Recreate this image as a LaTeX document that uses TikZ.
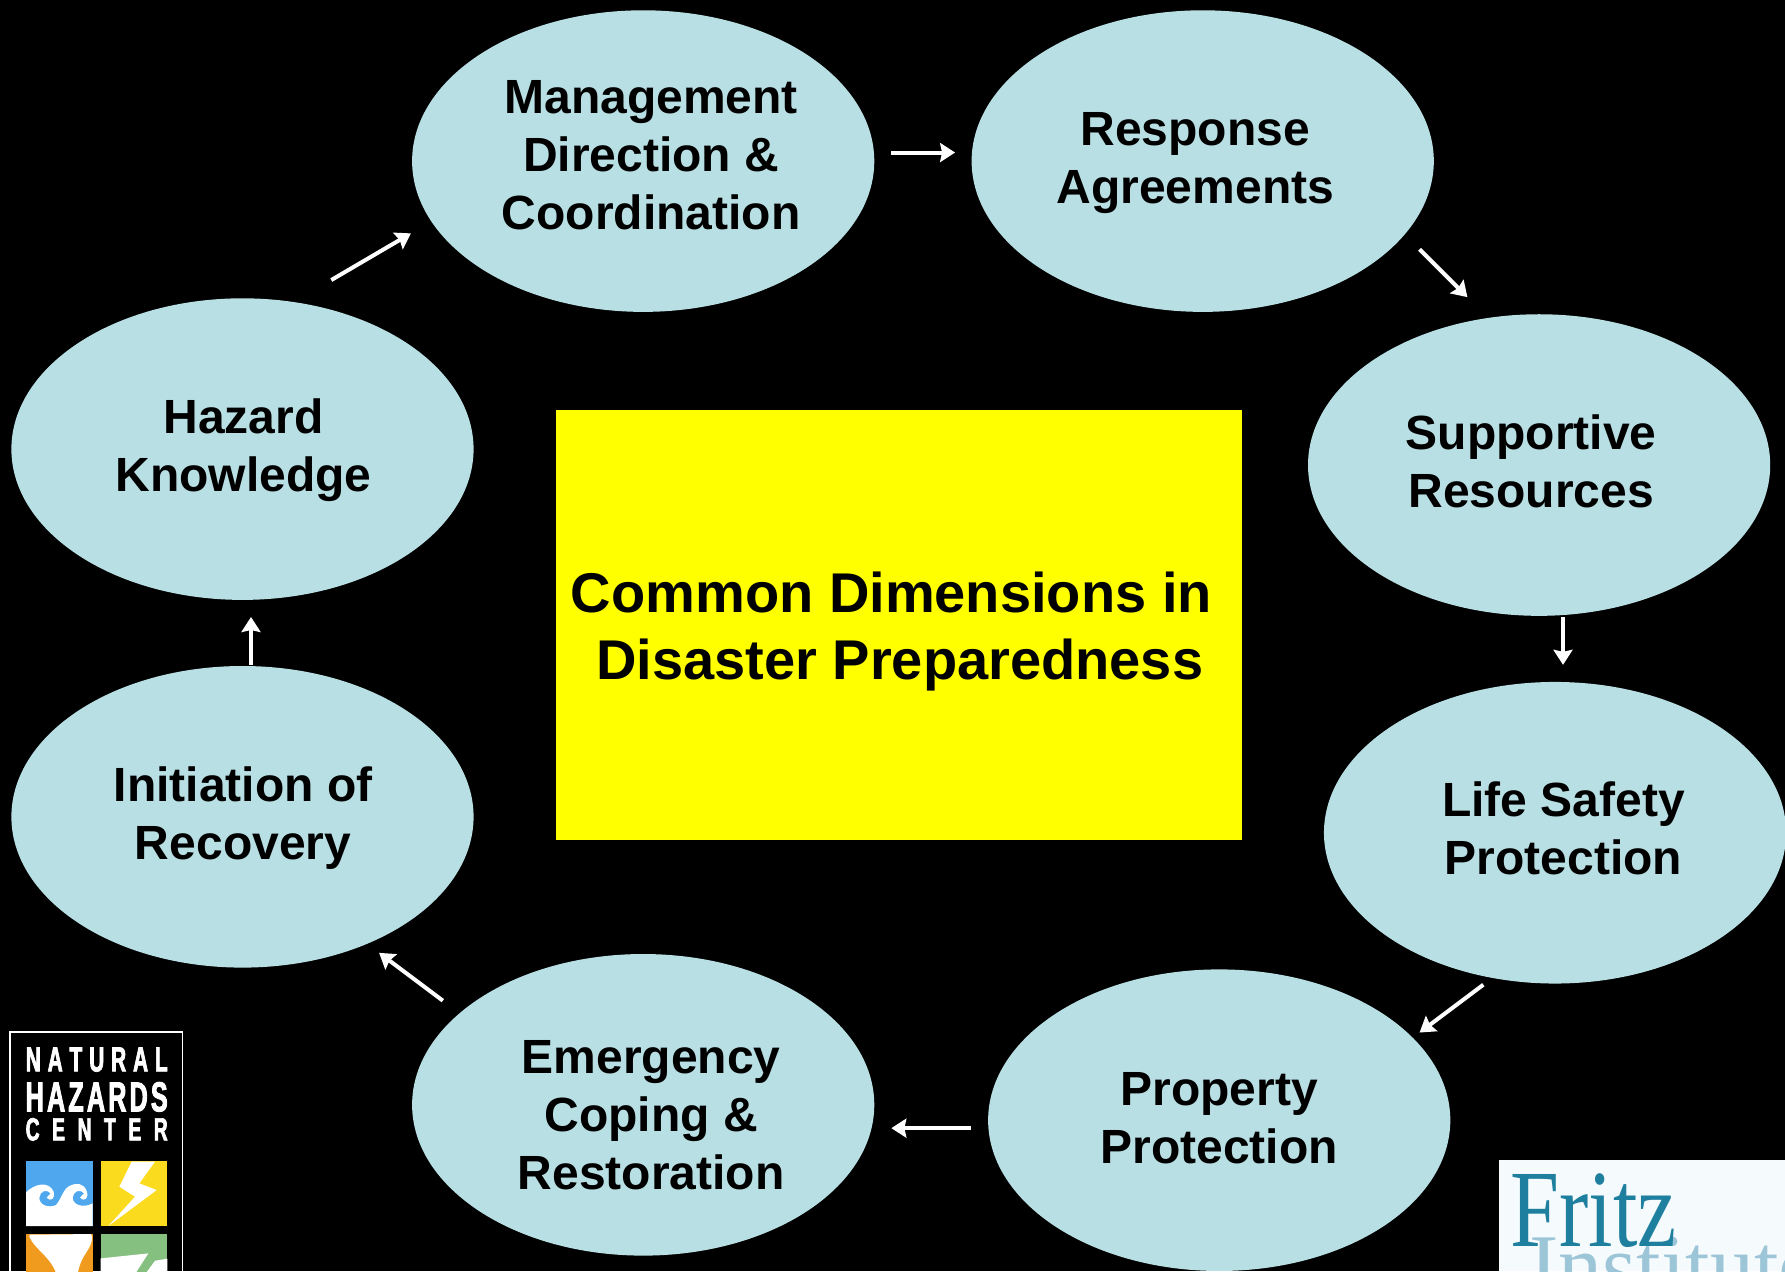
\documentclass[tikz,border=0pt]{standalone}
\usepackage{fontspec}
\usetikzlibrary{shapes.geometric,arrows.meta}
\setmainfont{Liberation Sans}
\newfontfamily\condfont[FakeStretch=0.6,FakeBold=2]{Liberation Sans Bold}
\newfontfamily\fritzfont{Liberation Serif}
\definecolor{bub}{HTML}{B8DFE3}
\definecolor{boxyellow}{RGB}{255,255,0}
\definecolor{lblue}{HTML}{4FA8EE}
\definecolor{lyellow}{HTML}{FBDB1E}
\definecolor{lorange}{HTML}{F09A1E}
\definecolor{lgreen}{HTML}{85C080}
\definecolor{fteal}{HTML}{1F7F9F}
\definecolor{fpale}{HTML}{9CC6D8}
\definecolor{fback}{HTML}{F5FAFC}
\tikzset{
  bubble/.style={ellipse,fill=bub,draw=none,minimum width=231.1pt,minimum height=150.8pt,inner sep=0pt},
  bubtext/.style={align=center,font=\fontsize{24}{29}\selectfont\bfseries,text=black,inner sep=0pt},
  titletext/.style={align=center,font=\fontsize{28}{33.6}\selectfont\bfseries,text=black,inner sep=0pt},
  flow/.style={draw=white,line width=2pt,-{Stealth[length=7.5pt,width=9.5pt,inset=1pt]}},
  logoline/.style={text=white,inner sep=0pt,anchor=base west},
}
\begin{document}
\begin{tikzpicture}[x=0.5692pt,y=-0.5692pt]
\useasboundingbox (0,0) rectangle (1568,1116.5);
\clip (0,0) rectangle (1568,1116.5);
\fill[black] (0,0) rectangle (1568,1116.5);

% bubbles
\node[bubble] (e1) at (565,141.5) {};
\node[bubble] (e2) at (1056.5,141.5) {};
\node[bubble] (e3) at (1352,408.5) {};
\node[bubble] (e4) at (1366,731.5) {};
\node[bubble] (e5) at (1071,984) {};
\node[bubble] (e6) at (565,970.5) {};
\node[bubble] (e7) at (213,717.5) {};
\node[bubble] (e8) at (213,394.5) {};

\node[bubtext] (t1) at (572,136) {Management\\Direction \&\\Coordination};
\node[bubtext] (t2) at (1050,143) {Response\\Agreements};
\node[bubtext] (t3) at (1345,405) {Supportive\\Resources};
\node[bubtext] (t4) at (1373.5,728) {Life Safety\\Protection};
\node[bubtext] (t5) at (1071,982) {Property\\Protection};
\node[bubtext] (t6) at (572,979.5) {Emergency\\Coping \&\\Restoration};
\node[bubtext] (t7) at (213.5,718.5) {Initiation of\\Recovery};
\node[bubtext] (t8) at (214,395.5) {Hazard\\Knowledge};

% centre box
\node[fill=boxyellow,draw=none,minimum width=343.2pt,minimum height=215.2pt,inner sep=0pt] (box) at (789.5,549) {};
\node[titletext] (title) at (783,554.5) {Common Dimensions in\\\hspace*{8.5pt}Disaster Preparedness};

% arrows
\coordinate (a1s) at (291,246);  \coordinate (a1e) at (361,205);
\coordinate (a2s) at (783,134);  \coordinate (a2e) at (839,134);
\coordinate (a3s) at (1247,219); \coordinate (a3e) at (1289,261);
\coordinate (a4s) at (1373,542); \coordinate (a4e) at (1373,584);
\coordinate (a5s) at (1303,865); \coordinate (a5e) at (1247,907);
\coordinate (a6s) at (853,991);  \coordinate (a6e) at (783,991);
\coordinate (a7s) at (389,879);  \coordinate (a7e) at (333,837);
\coordinate (a8s) at (220.5,584);  \coordinate (a8e) at (220.5,542);
\foreach \i in {1,...,8} \draw[flow] (a\i s) -- (a\i e);

% Natural Hazards Center logo (coordinates of a 3x crop whose origin is at pixel (0,1010))
\begin{scope}[x=0.16667pt,y=-0.16667pt,shift={(0,3030)}]
  \draw[white,line width=0.7pt] (30,800) -- (30,66) -- (548,66) -- (548,800);
  \node[logoline] (nat) at (76,184) {\condfont\fontsize{17.4}{17.4}\selectfont\makebox[71pt][s]{N\hfill A\hfill T\hfill U\hfill R\hfill A\hfill L}};
  \node[logoline] (haz) at (76,304) {\condfont\fontsize{21}{21}\selectfont\makebox[71pt][s]{H\hfill A\hfill Z\hfill A\hfill R\hfill D\hfill S}};
  \node[logoline] (cen) at (76,391) {\condfont\fontsize{16}{16}\selectfont\makebox[71pt][s]{C\hfill E\hfill N\hfill T\hfill E\hfill R}};
  % lightning
  \fill[lyellow] (302,452) rectangle (502,648);
  \fill[white] (395,455) -- (465,455) -- (418,520) -- (470,540) -- (325,648) -- (405,560) -- (358,530) -- cycle;
  % funnel
  \fill[lorange] (78,672) rectangle (278,800);
  \fill[white] (88,680) .. controls (105,720) and (155,740) .. (172,800) -- (232,800)
     .. controls (240,730) and (278,720) .. (276,680) -- (273,672) -- (90,674) -- cycle;
  % green
  \fill[lgreen] (302,672) rectangle (502,800);
  \fill[white] (302,745) -- (445,730) -- (400,800) -- (302,800) -- cycle;
  \fill[white] (465,752) -- (502,746) -- (502,800) -- (430,800) -- cycle;
\end{scope}
% wave (coordinates of a 3x crop whose origin is at pixel (20,1155))
\begin{scope}[x=0.16667pt,y=-0.16667pt,shift={(60,3465)}]
  \fill[lblue] (18,18) rectangle (218,213);
  \fill[white] (18,213) -- (18,112) .. controls (45,85) and (85,78) .. (100,108)
     .. controls (108,130) and (92,142) .. (80,128)
     .. controls (85,120) and (90,118) .. (92,116)
     .. controls (80,100) and (60,108) .. (58,128)
     .. controls (58,150) and (85,160) .. (108,150)
     .. controls (125,130) and (130,100) .. (150,92)
     .. controls (170,82) and (192,85) .. (200,108)
     .. controls (208,130) and (192,142) .. (180,128)
     .. controls (185,120) and (190,118) .. (192,116)
     .. controls (180,100) and (160,108) .. (158,128)
     .. controls (158,150) and (190,160) .. (218,145)
     -- (218,213) -- cycle;
\end{scope}

% Fritz Institute logo (picture pixels)
\begin{scope}[x=0.5pt,y=-0.5pt]
  \fill[fback] (1499,1160) rectangle (1785,1271);
  \node[inner sep=0pt,anchor=base west,text=fpale] (inst) at (1529,1295) {\fritzfont\fontsize{44}{44}\selectfont Institute};
  \node[inner sep=0pt,anchor=base west,text=fteal] (fritz) at (1510,1246) {\scalebox{0.8}[1]{\fritzfont\fontsize{55}{55}\selectfont Fritz}};
\end{scope}
\end{tikzpicture}
\end{document}
